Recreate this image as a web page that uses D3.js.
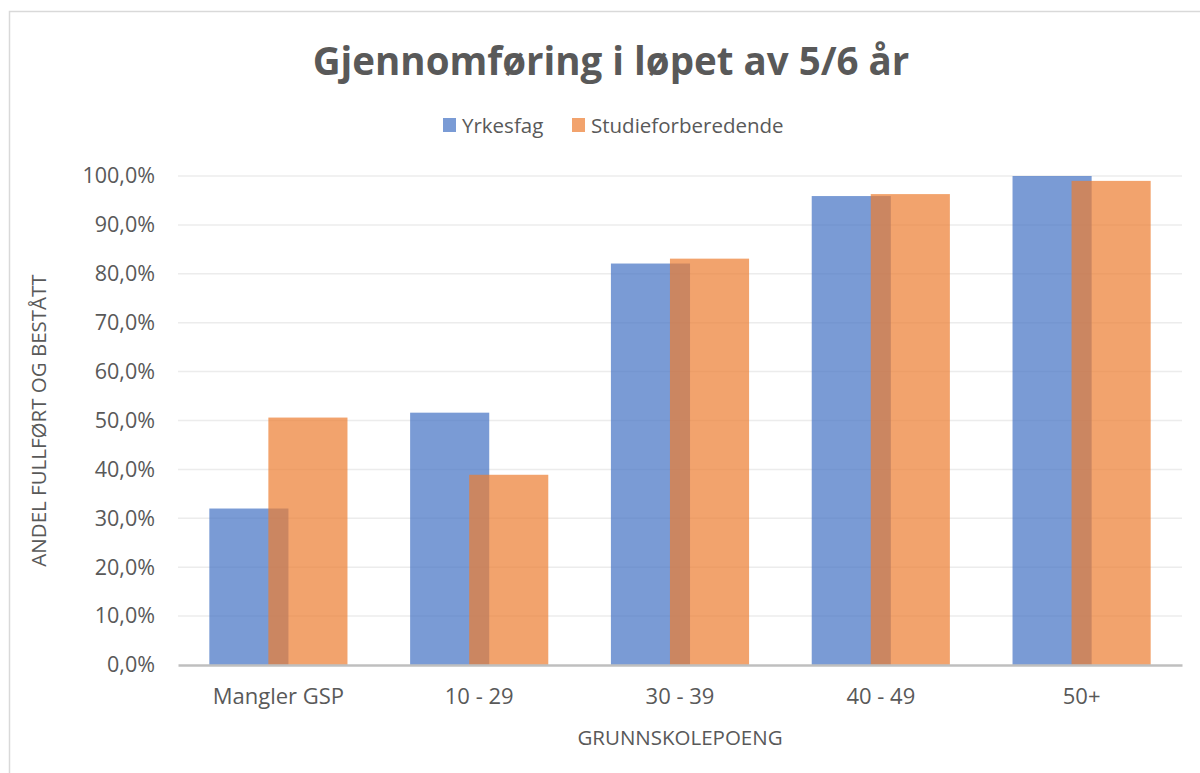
<!DOCTYPE html>
<html>
<head>
<meta charset="utf-8">
<script src="https://cdn.jsdelivr.net/npm/d3@7"></script>
<style>
  html, body { margin: 0; padding: 0; background: #fff; }
  svg text { font-family: "Open Sans", "Noto Sans", sans-serif; fill: #595959; }
</style>
</head>
<body>
<div id="chart"></div>
<script>
// data
const categories = ['Mangler GSP', '10 - 29', '30 - 39', '40 - 49', '50+'];
const yrkesfag = [32.0, 51.6, 82.1, 95.9, 100.0];
const studieforberedende = [50.6, 38.9, 83.1, 96.3, 99.0];
const yTicks = [0, 10, 20, 30, 40, 50, 60, 70, 80, 90, 100];
const seriesNames = ['Yrkesfag', 'Studieforberedende'];

const W = 1200, H = 773;
const margin = { top: 176, right: 18, bottom: 108, left: 178 };
const colors = ['#4472C4', '#ED7D31'];

const svg = d3.select('#chart').append('svg')
  .attr('width', W).attr('height', H);

// chart frame
svg.append('rect')
  .attr('x', 9.5).attr('y', 11.5)
  .attr('width', W + 10).attr('height', H + 10)
  .attr('fill', 'none').attr('stroke', '#d9d9d9').attr('stroke-width', 1.5);

const x = d3.scaleBand().domain(categories)
  .range([margin.left, W - margin.right]).paddingInner(0).paddingOuter(0);
const y = d3.scaleLinear().domain([0, 100]).range([H - margin.bottom, margin.top]);

// gridlines
svg.append('g').selectAll('line').data(yTicks.filter(d => d > 0)).enter().append('line')
  .attr('x1', margin.left).attr('x2', W - margin.right)
  .attr('y1', d => y(d)).attr('y2', d => y(d))
  .attr('stroke', '#ececec').attr('stroke-width', 1.5);

// y axis labels
const yAxis = d3.axisLeft(y).tickValues(yTicks).tickSize(0).tickPadding(23)
  .tickFormat(d => d.toFixed(1).replace('.', ',') + '%');
const gy = svg.append('g').attr('transform', `translate(${margin.left},0)`).call(yAxis);
gy.select('.domain').remove();
gy.selectAll('text').attr('font-size', 21.5).style('fill', '#595959')
  .attr('font-family', '"Open Sans", sans-serif');

// bars: the two series overlap a little in each category
const bw = x.bandwidth();
const barW = bw * 0.394;
const offsets = [-bw * 0.344, -bw * 0.05];
const series = [yrkesfag, studieforberedende];

series.forEach((vals, si) => {
  svg.append('g').selectAll('rect').data(categories).enter().append('rect')
    .attr('x', (d, i) => x(d) + bw / 2 + offsets[si])
    .attr('y', (d, i) => y(vals[i]))
    .attr('width', barW)
    .attr('height', (d, i) => y(0) - y(vals[i]))
    .attr('fill', colors[si])
    .attr('fill-opacity', 0.71);
});

// x axis
const xAxis = d3.axisBottom(x).tickSize(0).tickPadding(23);
const gx = svg.append('g').attr('transform', `translate(0,${y(0)})`).call(xAxis);
gx.select('.domain').attr('stroke', '#bfbfbf').attr('stroke-width', 2.5);
gx.selectAll('text').attr('font-size', 22).style('fill', '#595959')
  .attr('font-family', '"Open Sans", sans-serif');

// axis titles
svg.append('text')
  .attr('x', (margin.left + W - margin.right) / 2).attr('y', 745)
  .attr('text-anchor', 'middle').attr('font-size', 20.5)
  .text('GRUNNSKOLEPOENG');

svg.append('text')
  .attr('transform', `translate(46,${(y(0) + y(100)) / 2 - 0}) rotate(-90)`)
  .attr('text-anchor', 'middle').attr('font-size', 20.5)
  .text('ANDEL FULLFØRT OG BESTÅTT');

// title
svg.append('text')
  .attr('x', 611).attr('y', 75)
  .attr('text-anchor', 'middle').attr('font-size', 38.5).attr('font-weight', 'bold')
  .text('Gjennomføring i løpet av 5/6 år');

// legend
const legend = svg.append('g');
const legendX = [443, 572];
seriesNames.forEach((name, i) => {
  legend.append('rect')
    .attr('x', legendX[i]).attr('y', 118).attr('width', 13).attr('height', 14)
    .attr('fill', colors[i]).attr('fill-opacity', 0.71);
  legend.append('text')
    .attr('x', legendX[i] + 19).attr('y', 133)
    .attr('font-size', 20.5)
    .text(name);
});
</script>
</body>
</html>
